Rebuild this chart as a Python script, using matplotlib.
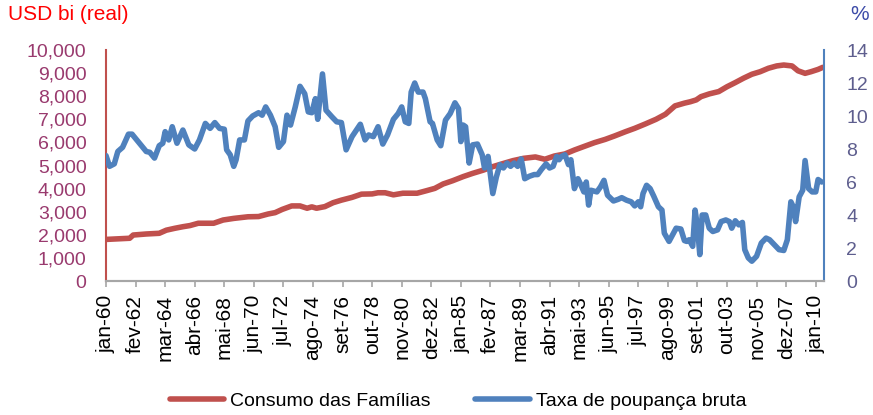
import matplotlib
matplotlib.use("Agg")
import matplotlib.pyplot as plt
import numpy as np

plt.rcParams["font.family"] = ["Liberation Sans", "DejaVu Sans"]

# month index counted from jan-60
cons_month = [0, 20, 23, 34, 45, 51, 58, 65, 71, 78, 91, 99, 108, 120, 129, 137, 143,
              149, 157, 164, 170, 174, 178, 185, 192, 199, 208, 216, 225, 230, 236, 243,
              251, 263, 271, 278, 285, 293, 302, 310, 319, 327, 336, 344, 353, 363, 371,
              379, 388, 396, 405, 413, 422, 430, 439, 447, 456, 465, 473, 477, 481, 489,
              494, 499, 503, 510, 518, 525, 532, 539, 546, 553, 560, 567, 573, 580, 585,
              591, 596, 602, 606]
cons_value = [1800, 1850, 1990, 2035, 2065, 2200, 2280, 2350, 2400, 2500, 2500, 2640, 2710,
              2780, 2790, 2900, 2960, 3100, 3250, 3250, 3150, 3210, 3150, 3220, 3390, 3500,
              3620, 3760, 3770, 3820, 3820, 3730, 3800, 3800, 3910, 4010, 4200, 4340, 4520,
              4660, 4800, 4950, 5090, 5210, 5310, 5370, 5270, 5410, 5500, 5670, 5840, 5990,
              6130, 6280, 6460, 6610, 6800, 7000, 7220, 7400, 7580, 7700, 7760, 7840, 7980,
              8100, 8200, 8410, 8590, 8780, 8950, 9060, 9210, 9310, 9350, 9310, 9100, 8990,
              9060, 9160, 9250]

sav_month = [0, 3, 7, 10, 14, 19, 22, 26, 30, 34, 37, 41, 45, 48, 50, 53, 56, 60, 65, 70,
             75, 79, 84, 88, 92, 96, 100, 102, 105, 108, 110, 113, 117, 120, 124, 129, 132,
             135, 139, 143, 146, 150, 153, 156, 160, 164, 168, 171, 174, 177, 179, 183, 186,
             191, 195, 199, 203, 208, 215, 219, 222, 226, 230, 234, 238, 243, 247, 250, 253,
             256, 258, 261, 264, 268, 270, 274, 276, 280, 283, 287, 291, 295, 298, 300, 302,
             304, 307, 310, 314, 318, 320, 323, 327, 330, 333, 336, 339, 342, 345, 348, 351,
             354, 358, 362, 365, 368, 372, 375, 378, 381, 383, 385, 388, 391, 393, 396, 399,
             401, 404, 406, 408, 410, 415, 418, 421, 424, 429, 433, 436, 440, 444, 447, 450,
             452, 454, 457, 460, 463, 467, 470, 472, 476, 479, 482, 486, 489, 491, 493, 496,
             498, 500, 502, 504, 507, 510, 513, 517, 520, 524, 527, 529, 532, 535, 538, 540,
             543, 546, 550, 554, 558, 561, 565, 569, 573, 576, 579, 581, 583, 586, 589, 591,
             594, 597, 600, 602, 605]
sav_value = [7.6, 6.95, 7.1, 7.85, 8.1, 8.9, 8.9, 8.55, 8.2, 7.85, 7.8, 7.45, 8.2, 8.35,
             9.05, 8.55, 9.35, 8.35, 9.15, 8.25, 8.0, 8.55, 9.55, 9.25, 9.6, 9.25, 9.2, 7.95,
             7.65, 6.95, 7.35, 8.55, 8.55, 9.7, 10.0, 10.2, 10.05, 10.55, 10.05, 9.35, 8.1,
             8.45, 10.05, 9.45, 10.55, 11.8, 11.35, 10.25, 10.2, 11.05, 9.8, 12.55, 10.35,
             9.95, 9.65, 9.6, 7.95, 8.75, 9.5, 8.55, 8.85, 8.75, 9.35, 8.3, 8.85, 9.8, 10.15,
             10.55, 9.65, 9.55, 11.45, 12.0, 11.45, 11.45, 11.05, 9.65, 9.55, 8.55, 8.2, 9.75,
             10.15, 10.8, 10.45, 8.45, 9.45, 9.35, 7.15, 8.25, 8.3, 7.65, 6.85, 7.55, 5.3,
             6.3, 7.05, 6.85, 7.15, 6.95, 7.15, 6.95, 7.4, 6.2, 6.35, 6.45, 6.45, 6.75, 7.1,
             6.85, 6.95, 7.55, 7.35, 7.55, 7.65, 7.05, 7.35, 5.6, 6.2, 5.9, 5.4, 6.0, 4.6,
             5.5, 5.4, 5.7, 6.1, 5.2, 4.85, 4.95, 5.05, 4.9, 4.8, 4.55, 4.8, 4.5, 5.3, 5.8,
             5.6, 5.15, 4.5, 4.3, 2.9, 2.4, 2.8, 3.2, 3.15, 2.45, 2.4, 2.5, 2.1, 4.3, 3.3,
             1.6, 4.0, 4.0, 3.2, 3.0, 3.1, 3.6, 3.7, 3.6, 3.2, 3.65, 3.4, 3.55, 1.9, 1.4,
             1.2, 1.5, 2.3, 2.6, 2.5, 2.2, 1.9, 1.85, 2.5, 4.8, 4.5, 3.6, 5.1, 5.5, 7.3, 5.6,
             5.4, 5.4, 6.15, 6.0]

tick_labels = ["jan-60", "fev-62", "mar-64", "abr-66", "mai-68", "jun-70", "jul-72",
               "ago-74", "set-76", "out-78", "nov-80", "dez-82", "jan-85", "fev-87",
               "mar-89", "abr-91", "mai-93", "jun-95", "jul-97", "ago-99", "set-01",
               "out-03", "nov-05", "dez-07", "jan-10"]
tick_pos = np.arange(len(tick_labels)) * 25

RED = "#C0504D"
BLUE = "#4F81BD"

fig = plt.figure(figsize=(8.73, 4.15), dpi=100)
ax = fig.add_axes([106 / 873, 1 - 281 / 415, (824 - 106) / 873, (281 - 50) / 415])
ax2 = ax.twinx()

l1, = ax.plot(cons_month, cons_value, color=RED, linewidth=4.0,
              solid_capstyle="round", label="Consumo das Famílias")
l2, = ax2.plot(sav_month, sav_value, color=BLUE, linewidth=4.0,
               solid_capstyle="round", solid_joinstyle="round", label="Taxa de poupança bruta")

ax.set_xlim(0, 607)
ax.set_ylim(0, 10000)
ax2.set_ylim(0, 14)
ax.set_yticks(np.arange(0, 10001, 1000))
ax.set_yticklabels([f"{v:,}" for v in range(0, 10001, 1000)])
ax2.set_yticks(np.arange(0, 15, 2))
ax.set_xticks(tick_pos)
ax.set_xticklabels(tick_labels, rotation=90, fontsize=15)

for a in (ax, ax2):
    a.spines["top"].set_visible(False)
    a.spines["bottom"].set_color("#A6A6A6")
    a.spines["bottom"].set_linewidth(1.5)
ax.spines["left"].set_color(RED)
ax.spines["left"].set_linewidth(1.5)
ax.spines["right"].set_visible(False)
ax2.spines["left"].set_visible(False)
ax2.spines["right"].set_color(BLUE)
ax2.spines["right"].set_linewidth(1.5)

ax.tick_params(axis="y", length=0, pad=14, labelsize=14, labelcolor="#993A6E")
ax.tick_params(axis="x", length=4, width=1.2, color="#A6A6A6", pad=6)
ax2.tick_params(axis="y", length=0, pad=16, labelsize=14, labelcolor="#5E5E8E")

fig.text(8 / 873, 1 - 5 / 415, "USD bi (real)", color="#FF0000", fontsize=15,
         ha="left", va="top")
fig.text(850 / 873, 1 - 5 / 415, "%", color="#3C4BA8", fontsize=15, ha="left", va="top")

fig.legend(handles=[l1, l2], loc="center", bbox_to_anchor=(458 / 873, 1 - 401 / 415),
           ncol=2, frameon=False, fontsize=14, handlelength=2.8, handletextpad=0.3,
           columnspacing=2.3)

fig.savefig("out.png", dpi=100)
plt.close(fig)
